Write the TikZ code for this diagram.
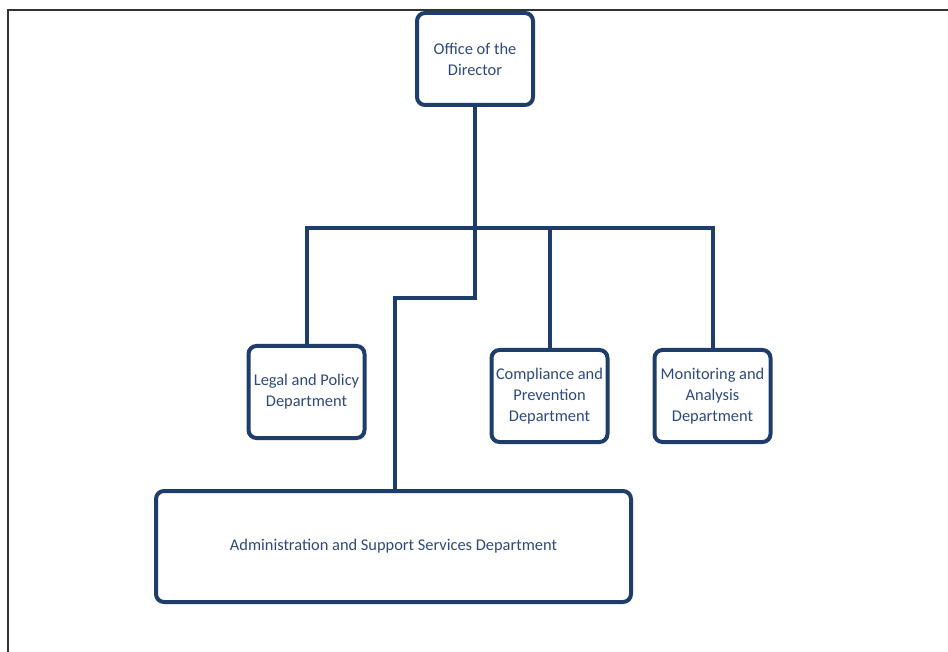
\documentclass[tikz,border=0pt]{standalone}
\usepackage{fontspec}
\setmainfont{Carlito}
\usepackage{tikz}
\usetikzlibrary{calc,positioning}
\definecolor{navy}{HTML}{1F3D6B}
\definecolor{navytext}{HTML}{2E4A7D}

\begin{document}
\begin{tikzpicture}[
  x=1pt, y=-1pt,
  unit/.style={rectangle, draw=navy, line width=4pt, rounded corners=8pt, fill=white,
    minimum width=116pt, minimum height=92pt, align=center, text=navytext,
    font=\fontsize{16.4}{21}\selectfont, inner sep=1pt},
  link/.style={draw=navy, line width=4pt}
]
  \useasboundingbox (0,0) rectangle (948,652);
  \draw[black!80, line width=1.3pt] (8,652) -- (8,10) -- (948,10);

  \node[unit] (dir)     at (475,59)    {Office of the\\Director};
  \node[unit] (legal)   at (306.5,392) {Legal and Policy\\Department};
  \node[unit] (comply)  at (549.5,396) {Compliance and\\Prevention\\Department};
  \node[unit] (monitor) at (712.5,396) {Monitoring and\\Analysis\\Department};
  \node[unit, minimum width=475pt, minimum height=111pt] (admin) at (393.5,546.5)
    {Administration and Support Services Department};

  \coordinate (hub) at (475,228);
  \coordinate (jog) at (395,298);
  \draw[link] (dir.south) -- (hub);
  \draw[link] (hub) -| (legal.north);
  \draw[link] (hub) -| (monitor.north);
  \draw[link] (hub -| comply.north) -- (comply.north);
  \draw[link] (hub) |- (jog) -- (jog |- admin.north);
\end{tikzpicture}
\end{document}
